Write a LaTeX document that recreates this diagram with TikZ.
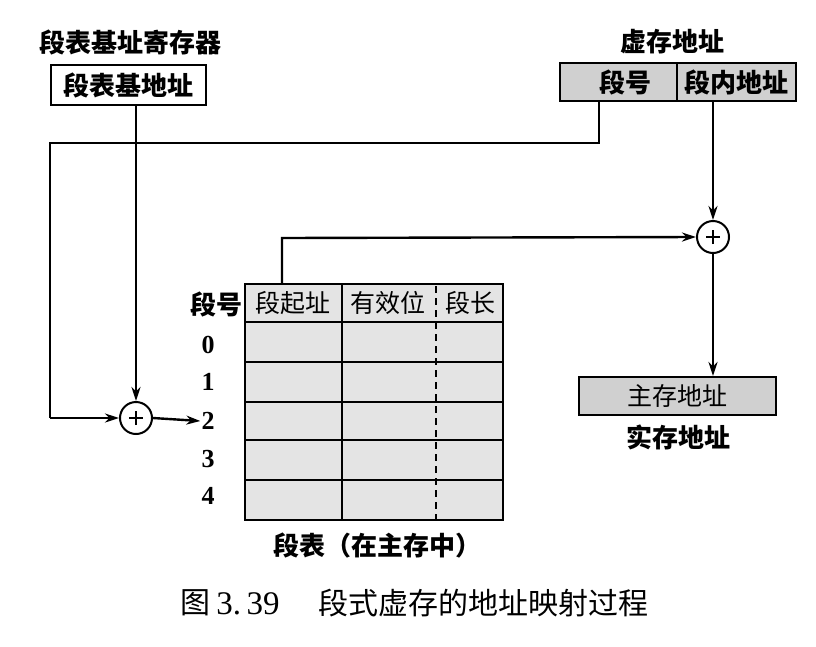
\documentclass[tikz,border=0pt]{standalone}
\usepackage{fontspec}
\newfontfamily\cjk{Noto Sans CJK SC}
\newfontfamily\tms{Liberation Serif}
\usetikzlibrary{arrows.meta}
\definecolor{boxgray}{HTML}{D0D0D0}
\definecolor{tabgray}{HTML}{E4E4E4}
\tikzset{
  lbl/.style={font=\cjk\bfseries\fontsize{26}{28}\selectfont, inner sep=0pt},
  hdr/.style={font=\cjk\fontsize{25}{28}\selectfont, inner sep=0pt},
  num/.style={font=\tms\bfseries\fontsize{26}{28}\selectfont, inner sep=0pt},
  capt/.style={inner sep=0pt, font=\cjk\fontsize{30}{32}\selectfont},
  cell/.style={draw, line width=2pt, fill=boxgray, inner sep=0pt, font=\cjk\fontsize{25}{28}\selectfont},
  grid/.style={line width=2pt},
  wire/.style={line width=2.4pt},
  arr/.style={wire, -{Stealth[length=14pt,width=9pt]}},
  adder/.style={circle, draw, line width=2pt, fill=white, minimum size=32pt, inner sep=0pt,
    path picture={\draw[line width=1.6pt] ([xshift=-7pt]path picture bounding box.center) -- ([xshift=7pt]path picture bounding box.center);
                  \draw[line width=1.6pt] ([yshift=-7pt]path picture bounding box.center) -- ([yshift=7pt]path picture bounding box.center);}},
}
\begin{document}
\begin{tikzpicture}[x=1pt,y=-1pt]
\useasboundingbox (0,0) rectangle (816,646);
% titles
\node[lbl] (t1) at (130,42) {段表基址寄存器};
\node[lbl] (t2) at (672,42) {虚存地址};
% base register
\node[draw, line width=2.6pt, minimum width=155pt, minimum height=40pt, inner sep=0pt, lbl] (base) at (128.5,85) {段表基地址};
% virtual address
\node[cell, minimum width=117pt, minimum height=38pt, font=\cjk\bfseries\fontsize{26}{28}\selectfont] (seg) at (618.5,82) {\hspace*{14pt}段号};
\node[cell, minimum width=119pt, minimum height=38pt, font=\cjk\bfseries\fontsize{26}{28}\selectfont] (off) at (736.5,82) {段内地址};
% adders
\node[adder] (p1) at (136,418) {};
\node[adder] (p2) at (713,237) {};
% table
\fill[tabgray] (245,284) rectangle (503,520);
\foreach \y in {284,322,362,402,440,480,520} \draw[grid] (244,\y) -- (504,\y);
\draw[grid] (245,284) -- (245,520);
\draw[grid] (342,284) -- (342,520);
\draw[grid] (503,284) -- (503,520);
\draw[line width=2pt, dash pattern=on 7pt off 5pt] (436,286) -- (436,520);
\node[hdr] (h1) at (293,303) {段起址};
\node[hdr] (h2) at (388,303) {有效位};
\node[hdr] (h3) at (470,303) {段长};
\coordinate (ttop) at (282,284);
\node[lbl] (sh) at (216,304) {段号};
\node[num] (r0) at (208,345) {0};
\node[num] (r1) at (208,382) {1};
\node[num] (r2) at (208,421) {2};
\node[num] (r3) at (208,459) {3};
\node[num] (r4) at (208,496) {4};
\node[lbl] (tcap) at (377,546) {段表（在主存中）};
% main memory address
\node[cell, minimum width=197pt, minimum height=38pt] (mem) at (677,396) {主存地址};
\node[lbl] (real) at (678,437) {实存地址};
% caption
\node[capt] (cap1) at (195,603) {图};
\node[capt, font=\tms\fontsize{33}{36}\selectfont] (cap2) at (248,604) {3.\,39};
\node[capt] (cap3) at (483,603) {段式虚存的地址映射过程};
% connectors
\coordinate (c1) at (599,143);
\coordinate (c2) at (50,143);
\coordinate (c3) at (50,418);
\draw[wire, line join=miter] (seg.south -| c1) -- (c1) -- (c2) -- (c3);
\draw[arr] (c3) -- (p1.west);
\draw[arr] (base.south -| p1) -- (p1.north);
\draw[arr] (p1.east) -- ([xshift=-1pt]r2.west);
\draw[arr] (off.south -| p2) -- (p2.north);
\coordinate (c4) at (282,238);
\draw[arr] (ttop) -- (c4) -- (p2.west);
\draw[arr] (p2.south) -- (p2 |- mem.north);
\end{tikzpicture}
\end{document}
